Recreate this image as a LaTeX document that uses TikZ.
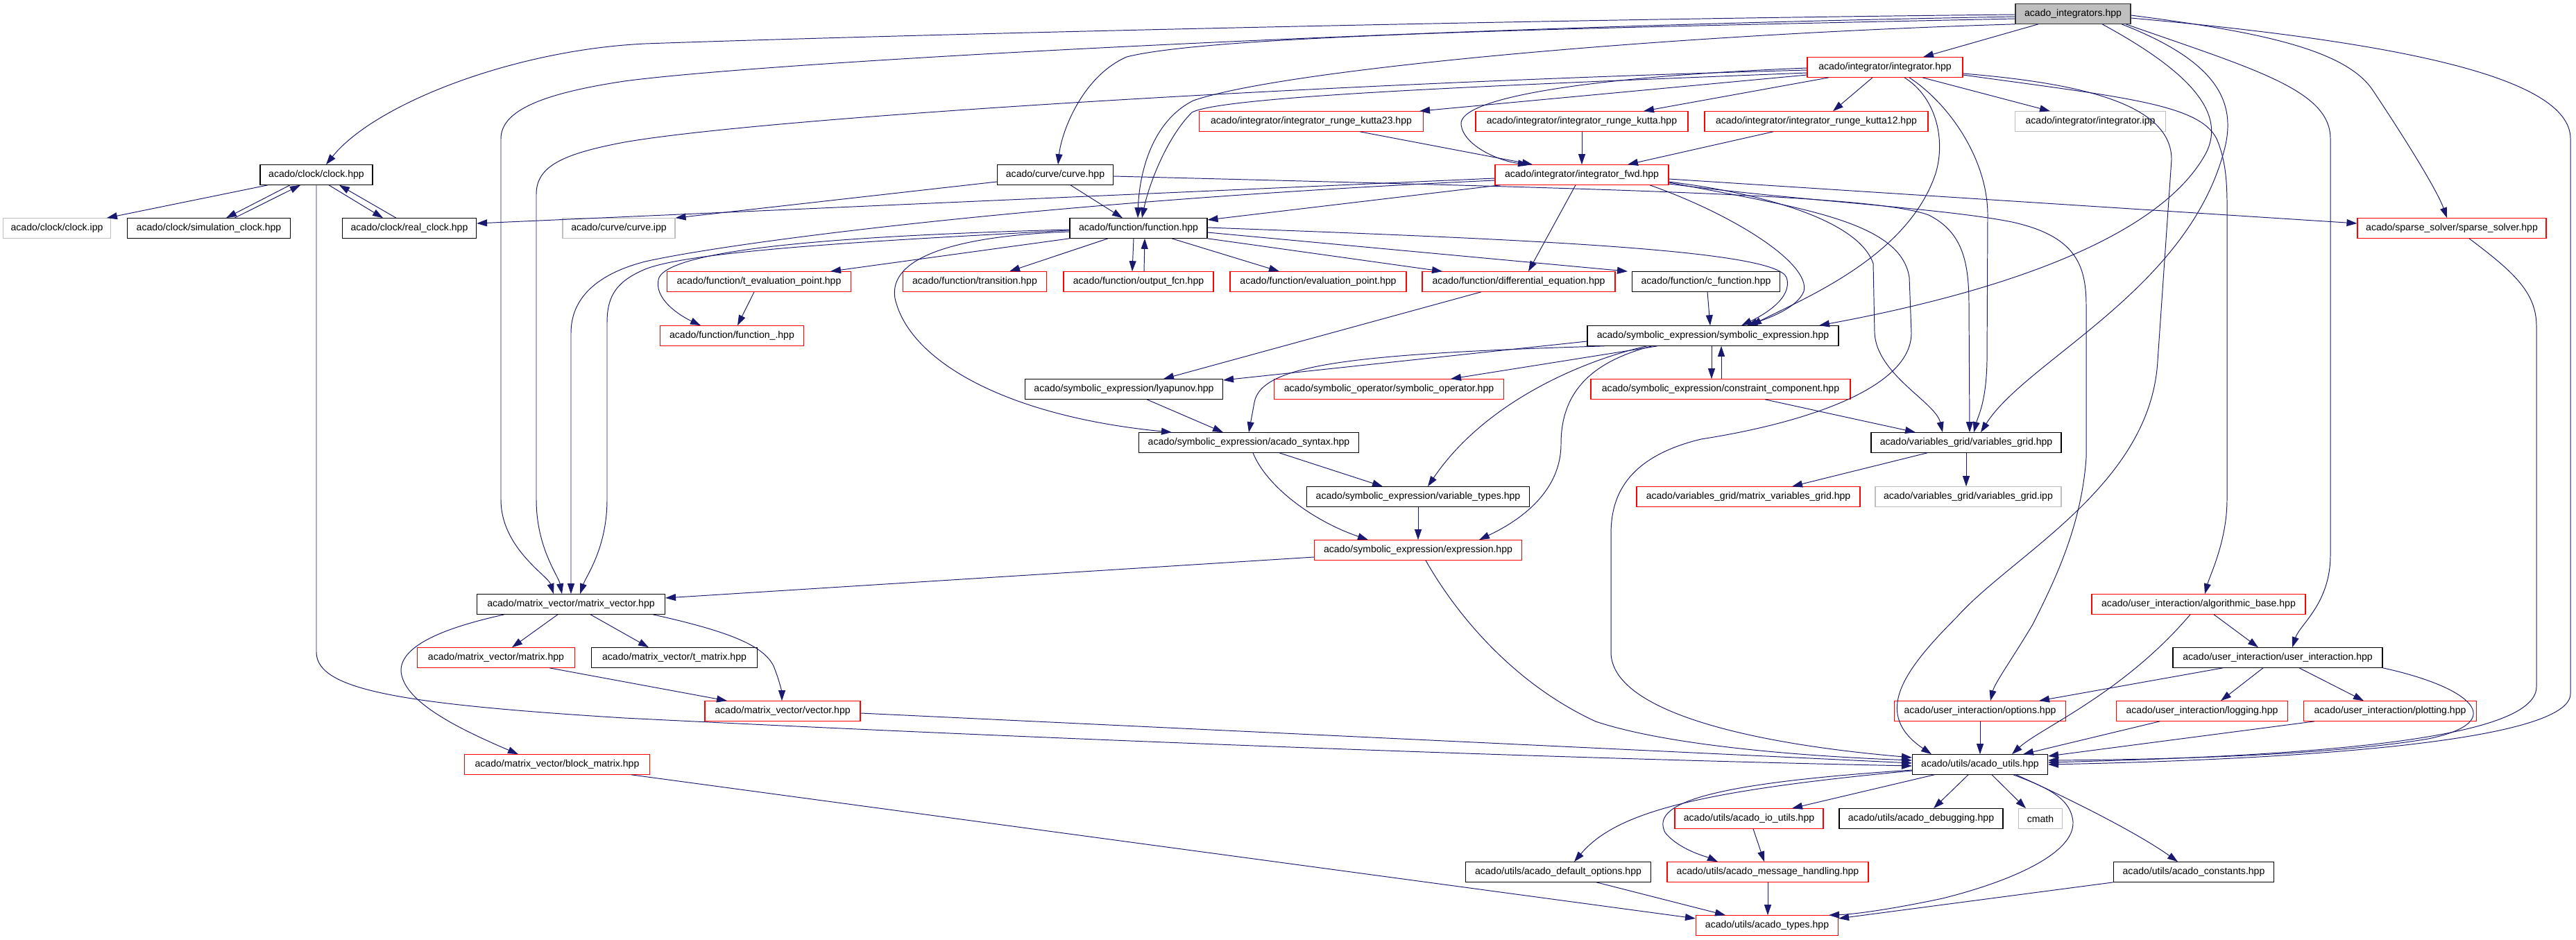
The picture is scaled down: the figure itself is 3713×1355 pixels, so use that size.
\documentclass[tikz,border=0pt]{standalone}
\usepackage{fontspec}
\setmainfont{Liberation Sans}
\usetikzlibrary{arrows.meta,calc}
\definecolor{edgec}{HTML}{191970}
\definecolor{nred}{HTML}{FF0000}
\definecolor{ngray}{HTML}{BFBFBF}
\tikzset{
 nbox/.style={draw=black, line width=0.65pt, minimum height=0.57cm, inner sep=0pt, fill=white, font=\fontsize{8}{9.6}\selectfont},
 redbox/.style={nbox, draw=nred},
 graybox/.style={nbox, draw=ngray},
 rootbox/.style={nbox, fill=ngray, draw=black!80},
 edge/.style={draw=edgec, line width=0.55pt, -{Triangle[length=0.3cm,width=0.2cm]}},
}
\begin{document}
\begin{tikzpicture}[x=0.02cm,y=-0.02cm]
\useasboundingbox (0,0) rectangle (3713,1355);
\fill[white] (0,0) rectangle (3713,1355);
% nodes
\node[rootbox, minimum width=3.32cm] (R) at (2988,20) {acado\_integrators.hpp};
\node[redbox, minimum width=4.48cm] (integrator) at (2717,97) {acado/integrator/integrator.hpp};
\node[redbox, minimum width=6.46cm] (rk23) at (1890,175) {acado/integrator/integrator\_runge\_kutta23.hpp};
\node[redbox, minimum width=6.12cm] (rk) at (2280,175) {acado/integrator/integrator\_runge\_kutta.hpp};
\node[redbox, minimum width=6.44cm] (rk12) at (2618,175) {acado/integrator/integrator\_runge\_kutta12.hpp};
\node[graybox, minimum width=4.34cm] (intipp) at (3013,175) {acado/integrator/integrator.ipp};
\node[nbox, minimum width=3.24cm] (clock) at (456,252) {acado/clock/clock.hpp};
\node[nbox, minimum width=3.34cm] (curve) at (1521,252) {acado/curve/curve.hpp};
\node[redbox, minimum width=5.00cm] (fwd) at (2280,252) {acado/integrator/integrator\_fwd.hpp};
\node[graybox, minimum width=3.10cm] (clockipp) at (82,329) {acado/clock/clock.ipp};
\node[nbox, minimum width=4.70cm] (simclock) at (301,329) {acado/clock/simulation\_clock.hpp};
\node[nbox, minimum width=3.86cm] (realclock) at (590,329) {acado/clock/real\_clock.hpp};
\node[graybox, minimum width=3.24cm] (curveipp) at (892,329) {acado/curve/curve.ipp};
\node[nbox, minimum width=3.96cm] (function) at (1641,329) {acado/function/function.hpp};
\node[redbox, minimum width=5.44cm] (sparse) at (3534,329) {acado/sparse\_solver/sparse\_solver.hpp};
\node[redbox, minimum width=5.30cm] (teval) at (1094,406) {acado/function/t\_evaluation\_point.hpp};
\node[redbox, minimum width=4.14cm] (transition) at (1405,406) {acado/function/transition.hpp};
\node[redbox, minimum width=4.32cm] (outputfcn) at (1641,406) {acado/function/output\_fcn.hpp};
\node[redbox, minimum width=5.08cm] (evalpt) at (1900,406) {acado/function/evaluation\_point.hpp};
\node[redbox, minimum width=5.56cm] (diffeq) at (2189,406) {acado/function/differential\_equation.hpp};
\node[nbox, minimum width=4.26cm] (cfunc) at (2459,406) {acado/function/c\_function.hpp};
\node[redbox, minimum width=4.14cm] (funcu) at (1055,484) {acado/function/function\_.hpp};
\node[nbox, minimum width=7.24cm] (symexpr) at (2469,484) {acado/symbolic\_expression/symbolic\_expression.hpp};
\node[nbox, minimum width=5.70cm] (lyap) at (1620,561) {acado/symbolic\_expression/lyapunov.hpp};
\node[redbox, minimum width=6.62cm] (symop) at (2002,561) {acado/symbolic\_operator/symbolic\_operator.hpp};
\node[redbox, minimum width=7.48cm] (constr) at (2480,561) {acado/symbolic\_expression/constraint\_component.hpp};
\node[nbox, minimum width=6.34cm] (syntax) at (1800,638) {acado/symbolic\_expression/acado\_syntax.hpp};
\node[nbox, minimum width=5.48cm] (vgrid) at (2834,638) {acado/variables\_grid/variables\_grid.hpp};
\node[nbox, minimum width=6.42cm] (vartypes) at (2044,716) {acado/symbolic\_expression/variable\_types.hpp};
\node[redbox, minimum width=6.44cm] (mvgrid) at (2520,716) {acado/variables\_grid/matrix\_variables\_grid.hpp};
\node[graybox, minimum width=5.36cm] (vgridipp) at (2837,716) {acado/variables\_grid/variables\_grid.ipp};
\node[redbox, minimum width=5.98cm] (expr) at (2044,793) {acado/symbolic\_expression/expression.hpp};
\node[nbox, minimum width=5.42cm] (matvec) at (823,871) {acado/matrix\_vector/matrix\_vector.hpp};
\node[redbox, minimum width=6.16cm] (algbase) at (3169,871) {acado/user\_interaction/algorithmic\_base.hpp};
\node[redbox, minimum width=4.54cm] (matrix) at (715,948) {acado/matrix\_vector/matrix.hpp};
\node[nbox, minimum width=4.78cm] (tmatrix) at (972,948) {acado/matrix\_vector/t\_matrix.hpp};
\node[nbox, minimum width=6.04cm] (userint) at (3283,948) {acado/user\_interaction/user\_interaction.hpp};
\node[redbox, minimum width=4.48cm] (vector) at (1128,1025) {acado/matrix\_vector/vector.hpp};
\node[redbox, minimum width=4.94cm] (options) at (2854,1025) {acado/user\_interaction/options.hpp};
\node[redbox, minimum width=4.94cm] (logging) at (3174,1025) {acado/user\_interaction/logging.hpp};
\node[redbox, minimum width=4.98cm] (plotting) at (3445,1025) {acado/user\_interaction/plotting.hpp};
\node[redbox, minimum width=5.34cm] (block) at (803,1102) {acado/matrix\_vector/block\_matrix.hpp};
\node[nbox, minimum width=3.90cm] (utils) at (2854,1102) {acado/utils/acado\_utils.hpp};
\node[redbox, minimum width=4.28cm] (ioutils) at (2521,1180) {acado/utils/acado\_io\_utils.hpp};
\node[nbox, minimum width=4.72cm] (debug) at (2769,1180) {acado/utils/acado\_debugging.hpp};
\node[graybox, minimum width=1.26cm] (cmath) at (2941,1180) {cmath};
\node[nbox, minimum width=5.34cm] (defopt) at (2246,1257) {acado/utils/acado\_default\_options.hpp};
\node[redbox, minimum width=5.80cm] (msg) at (2548,1257) {acado/utils/acado\_message\_handling.hpp};
\node[nbox, minimum width=4.62cm] (consts) at (3162,1257) {acado/utils/acado\_constants.hpp};
\node[redbox, minimum width=4.10cm] (types) at (2547,1334) {acado/utils/acado\_types.hpp};
% root edges
\draw[edge] ($(R.west)+(0,1)$) .. controls (2200,28) and (1300,50) .. (930,63) .. controls (740,72) and (540,150) .. ($(clock.north)+(14,0)$);
\draw[edge] ($(R.west)+(0,4)$) .. controls (2000,40) and (1100,90) .. (900,117) .. controls (780,135) and (722,160) .. (722,200) -- (722,720) .. controls (722,790) and (790,830) .. ($(matvec.north)+(-25,0)$);
\draw[edge] ($(R.west)+(0,7)$) .. controls (2300,40) and (1750,50) .. (1624,82) .. controls (1560,110) and (1530,190) .. ($(curve.north)+(4,0)$);
\draw[edge] (R.south west) .. controls (2400,50) and (1850,100) .. (1720,145) .. controls (1660,175) and (1642,250) .. ($(function.north)+(-1,0)$);
\draw[edge] ($(R.south)+(-50,0)$) -- ($(integrator.north)+(55,0)$);
\draw[edge] ($(R.south)+(42,0)$) .. controls (3150,100) and (3210,160) .. (3180,220) .. controls (3100,370) and (2780,440) .. ($(symexpr.north)+(153,0)$);
\draw[edge] ($(R.south)+(70,0)$) .. controls (3200,90) and (3225,150) .. (3205,220) .. controls (3150,420) and (2920,520) .. ($(vgrid.north)+(21,0)$);
\draw[edge] ($(R.south)+(76,0)$) .. controls (3250,100) and (3359,130) .. (3359,200) -- (3359,800) .. controls (3359,870) and (3315,900) .. ($(userint.north)+(21,0)$);
\draw[edge] ($(R.east)+(0,6)$) .. controls (3450,60) and (3705,110) .. (3705,200) -- (3705,1000) .. controls (3705,1070) and (3300,1095) .. (utils.east);
\draw[edge] ($(R.east)+(0,2)$) .. controls (3250,45) and (3380,70) .. (3420,130) .. controls (3480,220) and (3515,280) .. ($(sparse.north)+(-7,0)$);
% integrator edges
\draw[edge] ($(integrator.west)+(0,4)$) .. controls (1900,120) and (1100,170) .. (900,205) .. controls (810,222) and (773,240) .. (773,280) -- (773,720) .. controls (773,790) and (805,830) .. ($(matvec.north)+(-13,0)$);
\draw[edge] ($(integrator.west)+(0,8)$) .. controls (2100,125) and (1760,140) .. (1718,162) .. controls (1680,200) and (1655,270) .. ($(function.north)+(5,0)$);
\draw[edge] ($(integrator.west)+(0,11)$) -- ($(rk23.north)+(156,0)$);
\draw[edge] ($(integrator.south)+(-81,0)$) -- ($(rk.north)+(89,0)$);
\draw[edge] ($(integrator.south)+(-18,0)$) -- ($(rk12.north)+(24,0)$);
\draw[edge] ($(integrator.west)+(0,1)$) .. controls (2300,110) and (2100,140) .. (2106,180) .. controls (2110,210) and (2160,232) .. ($(fwd.north)+(-77,0)$);
\draw[edge] ($(integrator.south)+(54,0)$) -- ($(intipp.north)+(-58,0)$);
\draw[edge] ($(integrator.south)+(28,0)$) .. controls (2790,140) and (2805,200) .. (2790,250) .. controls (2750,370) and (2600,430) .. ($(symexpr.north)+(55,0)$);
\draw[edge] ($(integrator.south)+(35,0)$) .. controls (2810,150) and (2865,230) .. (2865,310) -- (2864,520) .. controls (2863,580) and (2851,600) .. ($(vgrid.north)+(11,0)$);
\draw[edge] ($(integrator.east)+(0,9)$) .. controls (3000,120) and (3130,150) .. (3130,230) -- (3110,520) .. controls (3100,700) and (2900,800) .. (2820,890) .. controls (2740,970) and (2700,1030) .. ($(utils.north)+(-70,0)$);
\draw[edge] ($(integrator.east)+(0,11)$) .. controls (3060,140) and (3170,150) .. (3195,200) .. controls (3212,240) and (3210,280) .. (3210,330) -- (3210,720) .. controls (3210,780) and (3185,830) .. ($(algbase.north)+(9,0)$);
% fwd edges
\draw[edge] ($(fwd.west)+(0,5)$) -- ($(realclock.east)+(0,-7)$);
\draw[edge] ($(fwd.south west)+(8,0)$) -- ($(function.east)+(0,-12)$);
\draw[edge] ($(fwd.west)+(0,8)$) .. controls (1500,290) and (1050,350) .. (930,377) .. controls (860,395) and (823,430) .. (823,480) -- (matvec.north);
\draw[edge] ($(fwd.east)+(0,6)$) -- ($(sparse.west)+(0,-7)$);
\draw[edge] ($(fwd.south)+(-9,0)$) -- ($(diffeq.north)+(14,0)$);
\draw[edge] ($(fwd.south)+(98,0)$) .. controls (2500,310) and (2610,380) .. (2600,420) .. controls (2590,445) and (2545,460) .. ($(symexpr.north)+(49,0)$);
\draw[edge] ($(fwd.east)+(0,10)$) .. controls (2550,280) and (2680,320) .. (2700,380) -- (2702,480) .. controls (2705,540) and (2790,580) .. ($(vgrid.north)+(-34,0)$);
\draw[edge] ($(fwd.east)+(0,13)$) .. controls (2600,290) and (2800,300) .. (2900,320) .. controls (2990,340) and (3007,380) .. (3007,440) -- (3007,660) .. controls (3000,760) and (2960,840) .. (2930,900) .. controls (2900,950) and (2875,985) .. ($(options.north)+(15,0)$);
\draw[edge] ($(fwd.east)+(0,11)$) .. controls (2600,300) and (2740,320) .. (2752,400) -- (2755,480) .. controls (2755,560) and (2600,610) .. (2452,633) .. controls (2340,660) and (2322,720) .. (2322,770) -- (2322,940) .. controls (2322,1020) and (2500,1070) .. ($(utils.west)+(0,-10)$);
% function edges
\draw[edge] (function.south west) -- ($(teval.north)+(103,0)$);
\draw[edge] ($(function.south)+(-44,0)$) -- ($(transition.north)+(50,0)$);
\draw[edge] ($(function.south)+(-7,0)$) -- ($(outputfcn.north)+(-9,0)$);
\draw[edge] ($(outputfcn.north)+(8,0)$) -- ($(function.south)+(9,0)$);
\draw[edge] ($(function.south)+(48,0)$) -- ($(evalpt.north)+(-56,0)$);
\draw[edge] (function.south east) -- ($(diffeq.north)+(-110,0)$);
\draw[edge] ($(function.east)+(0,6)$) -- ($(cfunc.north)+(-113,0)$);
\draw[edge] ($(function.east)+(0,-1)$) .. controls (2200,345) and (2560,360) .. (2575,400) .. controls (2585,430) and (2540,455) .. ($(symexpr.north)+(41,0)$);
\draw[edge] ($(function.west)+(0,3)$) .. controls (1300,345) and (1000,360) .. (930,388) .. controls (890,405) and (875,425) .. (875,465) -- (875,720) .. controls (875,790) and (845,830) .. ($(matvec.north)+(13,0)$);
\draw[edge] ($(function.west)+(0,2)$) .. controls (1200,340) and (970,360) .. (950,400) .. controls (940,430) and (980,455) .. ($(funcu.north)+(-45,0)$);
\draw[edge] ($(function.west)+(0,5)$) .. controls (1380,340) and (1280,370) .. (1290,430) .. controls (1310,520) and (1450,600) .. ($(syntax.north)+(-111,0)$);
% curve edges
\draw[edge] ($(curve.west)+(0,10)$) -- (curveipp.north east);
\draw[edge] ($(curve.south)+(22,0)$) -- ($(function.north)+(-23,0)$);
\draw[edge] ($(curve.east)+(0,2)$) .. controls (2300,272) and (2700,280) .. (2780,310) .. controls (2830,335) and (2838,380) .. (2838,440) -- ($(vgrid.north)+(5,0)$);
% clock edges
\draw[edge] ($(clock.south)+(-70,0)$) -- ($(clockipp.north)+(72,0)$);
\draw[edge] ($(clock.south)+(-38,0)$) -- ($(simclock.north)+(25,0)$);
\draw[edge] ($(simclock.north)+(37,0)$) -- ($(clock.south)+(-23,0)$);
\draw[edge] ($(clock.south)+(18,0)$) -- ($(realclock.north)+(-38,0)$);
\draw[edge] ($(realclock.north)+(-19,0)$) -- ($(clock.south)+(33,0)$);
\draw[edge] (clock.south) -- (456,940) .. controls (456,995) and (580,1015) .. (900,1035) .. controls (1700,1075) and (2400,1097) .. ($(utils.west)+(0,2)$);
% matrix vector edges
\draw[edge] ($(matvec.south)+(-19,0)$) -- ($(matrix.north)+(23,0)$);
\draw[edge] ($(matvec.south)+(28,0)$) -- ($(tmatrix.north)+(-37,0)$);
\draw[edge] ($(matvec.south)+(118,0)$) .. controls (1050,910) and (1100,930) .. (1115,960) .. controls (1125,985) and (1127,1000) .. ($(vector.north)+(-1,0)$);
\draw[edge] ($(matvec.south)+(-96,0)$) .. controls (640,905) and (580,930) .. (578,965) .. controls (578,1010) and (660,1050) .. ($(block.north)+(-56,0)$);
\draw[edge] ($(matrix.south)+(77,0)$) -- ($(vector.north)+(-80,0)$);
\draw[edge] ($(vector.east)+(0,3)$) -- ($(utils.west)+(0,-2)$);
\draw[edge] ($(block.south east)+(-27,0)$) -- ($(types.west)+(0,-10)$);
\draw[edge] ($(expr.west)+(0,10)$) -- ($(matvec.east)+(0,-9)$);
\draw[edge] ($(expr.south)+(11,0)$) .. controls (2090,870) and (2170,980) .. (2300,1040) .. controls (2420,1080) and (2650,1092) .. ($(utils.west)+(0,-6)$);
% symbolic expression edges
\draw[edge] ($(symexpr.west)+(0,8)$) -- ($(lyap.east)+(0,-13)$);
\draw[edge] ($(symexpr.south west)+(25,0)$) .. controls (1950,510) and (1818,525) .. (1808,580) -- (syntax.north);
\draw[edge] ($(symexpr.south)+(-80,0)$) -- ($(symop.north)+(89,0)$);
\draw[edge] ($(symexpr.south)+(-95,0)$) .. controls (2280,520) and (2140,580) .. ($(vartypes.north)+(14,0)$);
\draw[edge] ($(symexpr.south)+(-88,0)$) .. controls (2300,520) and (2250,560) .. (2250,640) .. controls (2250,720) and (2170,760) .. ($(expr.north)+(88,0)$);
\draw[edge] ($(symexpr.south)+(-2,0)$) -- ($(constr.north)+(-13,0)$);
\draw[edge] ($(constr.north)+(1,0)$) -- ($(symexpr.south)+(12,0)$);
\draw[edge] ($(constr.south)+(64,0)$) -- ($(vgrid.north)+(-73,0)$);
\draw[edge] ($(cfunc.south)+(2,0)$) -- ($(symexpr.north)+(-4,0)$);
\draw[edge] ($(diffeq.south)+(-54,0)$) -- ($(lyap.north)+(57,0)$);
\draw[edge] ($(lyap.south)+(33,0)$) -- ($(syntax.north)+(-37,0)$);
\draw[edge] ($(syntax.south)+(44,0)$) -- ($(vartypes.north)+(-51,0)$);
\draw[edge] ($(syntax.south)+(6,0)$) .. controls (1825,700) and (1890,750) .. ($(expr.north)+(-72,0)$);
\draw[edge] (vartypes.south) -- (expr.north);
\draw[edge] ($(vgrid.south)+(-56,0)$) -- ($(mvgrid.north)+(63,0)$);
\draw[edge] (vgrid.south) -- ($(vgridipp.north)+(-3,0)$);
\draw[edge] ($(teval.south)+(-7,0)$) -- ($(funcu.north)+(8,0)$);
\draw[edge] ($(rk23.south)+(70,0)$) -- ($(fwd.north)+(-71,0)$);
\draw[edge] (rk.south) -- (fwd.north);
\draw[edge] ($(rk12.south)+(-62,0)$) -- ($(fwd.north)+(66,0)$);
% user interaction edges
\draw[edge] ($(sparse.south)+(25,0)$) .. controls (3620,390) and (3656,420) .. (3656,470) -- (3656,990) .. controls (3656,1070) and (3300,1090) .. ($(utils.east)+(0,-3)$);
\draw[edge] ($(algbase.south)+(22,0)$) -- ($(userint.north)+(-28,0)$);
\draw[edge] ($(algbase.south)+(-12,0)$) .. controls (3060,1000) and (2940,1050) .. ($(utils.north)+(46,0)$);
\draw[edge] ($(userint.south)+(-79,0)$) -- ($(options.north)+(85,0)$);
\draw[edge] ($(userint.south)+(-21,0)$) -- ($(logging.north)+(27,0)$);
\draw[edge] ($(userint.south)+(31,0)$) -- ($(plotting.north)+(-38,0)$);
\draw[edge] (userint.south east) .. controls (3560,990) and (3620,1040) .. (3500,1065) .. controls (3350,1090) and (3100,1095) .. ($(utils.east)+(0,-6)$);
\draw[edge] (options.south) -- (utils.north);
\draw[edge] ($(logging.south)+(-61,0)$) -- ($(utils.north)+(62,0)$);
\draw[edge] ($(plotting.south)+(-109,0)$) -- ($(utils.east)+(0,-12)$);
% utils edges
\draw[edge] ($(utils.south)+(-17,0)$) -- ($(debug.north)+(18,0)$);
\draw[edge] ($(utils.south)+(17,0)$) -- ($(cmath.north)+(-21,0)$);
\draw[edge] ($(utils.south)+(52,0)$) .. controls (2980,1150) and (3080,1200) .. ($(consts.north)+(-23,0)$);
\draw[edge] ($(utils.south)+(48,0)$) .. controls (2950,1135) and (2985,1150) .. (2988,1185) .. controls (2990,1230) and (2900,1270) .. (2800,1295) .. controls (2720,1312) and (2670,1318) .. ($(types.north)+(89,0)$);
\draw[edge] ($(utils.south)+(-66,0)$) -- ($(ioutils.north)+(62,0)$);
\draw[edge] ($(utils.west)+(0,9)$) .. controls (2450,1140) and (2330,1170) .. ($(defopt.north)+(23,0)$);
\draw[edge] ($(utils.west)+(0,8)$) .. controls (2450,1130) and (2380,1160) .. (2400,1200) .. controls (2420,1225) and (2460,1235) .. ($(msg.north)+(-72,0)$);
\draw[edge] ($(ioutils.south)+(6,0)$) -- ($(msg.north)+(-5,0)$);
\draw[edge] (msg.south) -- ($(types.north)+(1,0)$);
\draw[edge] ($(defopt.south)+(55,0)$) -- ($(types.north)+(-60,0)$);
\draw[edge] (consts.south west) -- ($(types.east)+(0,-10)$);
\end{tikzpicture}
\end{document}
